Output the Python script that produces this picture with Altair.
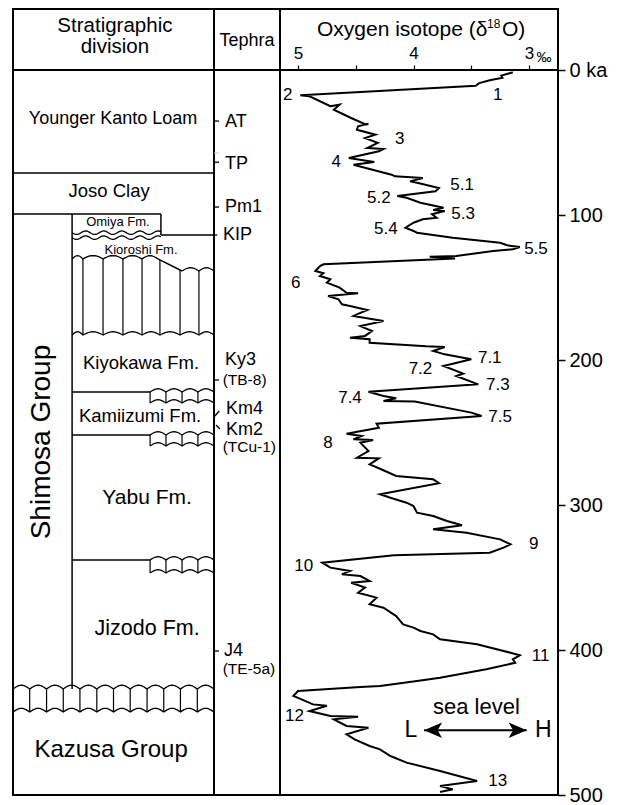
import altair as alt
import numpy as np
import pandas as pd

FONT = "Liberation Sans"

# ---------------- oxygen isotope curve ----------------
age_ka = [1.6, 3.9, 5.3, 7.1, 9.0, 10.8, 17.4, 18.1, 25.0, 23.9,
          27.4, 33.1, 37.7, 37.0, 38.8, 41.2, 44.6, 46.9, 50.3, 53.8,
          54.5, 56.1, 60.7, 63.4, 65.3, 72.2, 73.3, 74.5, 76.8, 77.9,
          81.4, 83.7, 86.9, 88.1, 91.5, 95.0, 96.6, 97.2, 99.5, 101.9,
          103.0, 105.3, 108.8, 111.0, 112.2, 115.7, 119.1, 120.9, 122.1, 123.7,
          124.8, 128.3, 128.8, 130.0, 134.0, 135.2, 138.6, 140.2, 142.1, 144.3,
          146.7, 150.1, 153.6, 154.0, 155.9, 158.1, 161.6, 162.8, 165.5, 168.5,
          169.7, 173.1, 176.6, 180.0, 183.4, 184.6, 185.7, 188.1, 190.5, 191.0,
          193.8, 196.1, 199.5, 204.1, 209.4, 211.0, 216.8, 221.9, 224.8, 226.4,
          228.3, 228.6, 236.3, 238.6, 243.9, 246.7, 250.8, 252.4, 254.7, 255.2,
          257.0, 262.8, 267.4, 267.8, 272.0, 275.0, 280.0, 282.3, 285.0, 292.6,
          295.0, 298.4, 300.7, 305.3, 307.6, 311.0, 314.0, 316.8, 319.1, 323.7,
          327.1, 329.4, 332.9, 334.7, 339.8, 343.2, 345.5, 347.8, 349.0, 352.4,
          353.6, 357.0, 360.5, 363.9, 368.5, 370.8, 376.6, 382.3, 384.6, 386.9,
          389.2, 392.6, 396.1, 401.9, 403.7, 406.4, 408.8, 413.3, 419.1, 421.4,
          424.8, 425.5, 428.3, 431.7, 434.0, 437.5, 438.5, 442.1, 445.5, 446.0,
          447.8, 452.4, 453.6, 458.1, 461.6, 466.2, 468.5, 473.1, 477.7, 483.4,
          490.3, 493.8, 496.1, 497.9]
d18o = [3.14, 3.24, 3.23, 3.34, 3.43, 3.46, 4.98, 4.90, 4.72, 4.64,
        4.69, 4.54, 4.41, 4.39, 4.48, 4.49, 4.33, 4.42, 4.31, 4.40,
        4.26, 4.30, 4.56, 4.34, 4.52, 4.19, 4.16, 3.92, 4.03, 3.96,
        3.78, 3.81, 4.14, 4.06, 3.94, 3.74, 3.83, 3.73, 3.84, 3.80,
        3.92, 4.00, 4.07, 4.00, 3.97, 3.66, 3.25, 3.19, 3.08, 3.14,
        3.31, 3.63, 3.86, 3.64, 4.78, 4.81, 4.85, 4.78, 4.81, 4.72,
        4.75, 4.64, 4.58, 4.48, 4.74, 4.65, 4.62, 4.55, 4.40, 4.49,
        4.52, 4.26, 4.46, 4.36, 4.42, 4.55, 4.38, 4.38, 3.89, 3.73,
        3.83, 3.73, 3.50, 3.74, 3.57, 3.63, 3.44, 4.39, 4.26, 4.15,
        4.26, 3.99, 3.50, 3.41, 4.32, 4.30, 4.58, 4.45, 4.52, 4.35,
        4.46, 4.39, 4.49, 4.30, 4.38, 4.29, 4.15, 3.83, 3.78, 4.29,
        4.20, 4.06, 4.00, 3.97, 3.83, 3.71, 3.58, 3.83, 3.54, 3.25,
        3.16, 3.22, 3.34, 4.17, 4.79, 4.72, 4.55, 4.62, 4.46, 4.38,
        4.54, 4.42, 4.48, 4.32, 4.38, 4.26, 4.15, 4.09, 4.00, 3.94,
        3.83, 3.77, 3.45, 3.16, 3.08, 3.14, 3.12, 3.37, 3.77, 3.97,
        4.29, 4.46, 5.00, 5.04, 4.97, 4.87, 4.75, 4.90, 4.72, 4.48,
        4.69, 4.58, 4.39, 4.58, 4.51, 4.38, 4.29, 4.20, 4.06, 3.77,
        3.45, 3.77, 3.66, 3.77]

# marine isotope stage labels
mis_text = ["1", "2", "3", "4", "5.1", "5.2", "5.3", "5.4", "5.5", "6", "7.1",
            "7.2", "7.3", "7.4", "7.5", "8", "9", "10", "11", "12", "13"]
mis_d18o = [3.27, 5.09, 4.12, 4.67, 3.58, 4.30, 3.57, 4.24, 2.94, 5.02, 3.34,
            3.94, 3.27, 4.55, 3.25, 4.74, 2.96, 4.95, 2.90, 5.03, 3.27]
mis_age = [17.0, 17.4, 47.6, 63.7, 79.1, 88.1, 99.5, 109.9, 123.7, 146.7, 198.4,
           206.4, 217.5, 226.0, 239.1, 257.0, 327.1, 342.1, 404.1, 445.5, 490.3]

# tephra markers (label text, label position, ages in ka)
tephra_text = ["AT", "TP", "Pm1", "KIP", "Ky3", "(TB-8)", "Km4", "Km2", "(TCu-1)", "J4", "(TE-5a)"]
tephra_label_age = [35.9, 64.5, 94.5, 113.8, 200.3, 213.8, 233.6, 248.0, 260.3, 400.7, 413.4]
tephra_label_x = [16.7, 16.7, 16.7, 13.6, 16.7, 13.1, 18.2, 18.2, 13.1, 15.2, 13.1]
tephra_label_fs = [18, 18, 18, 18, 18, 15.5, 18, 18, 15.5, 18, 15.5]
tick_x = [0, 0, 0, 0, 0, 0, 3, 0]
tick_x2 = [7.6, 7.6, 7.6, 5, 7.6, 8, 9, 7.6]
tick_age = [35.2, 63.6, 94.5, 113.8, 213.8, 239.3, 244.8, 400.7]
tick_age2 = [35.2, 63.6, 94.5, 113.8, 213.8, 235.2, 247.6, 400.7]

# stratigraphic column (x in % of column width, ages in ka)
line_x = [0, 0, 73.6, 73.6, 29.4, 72.1, 29.4, 29.4, 29.4]
line_x2 = [100, 73.6, 73.6, 100, 29.4, 84.1, 68.2, 68.2, 68.2]
line_age = [71.0, 99.3, 99.3, 113.8, 99.3, 130.3, 222.1, 251.7, 337.9]
line_age2 = [71.0, 99.3, 113.8, 113.8, 426.9, 138.6, 222.1, 251.7, 337.9]

hatch_x = [34.8, 44.8, 54.7, 64.2, 73.1, 83.1, 92.5]
hatch_top = [130.3, 130.3, 130.3, 130.3, 131.0, 138.0, 138.6]
hatch_base = 182.8
kioroshi_top_cusps_a = [29.4, 34.8, 44.8, 54.7, 64.2, 72.1]
kioroshi_top_cusps_b = [84.1, 92.5, 100]
kioroshi_base_cusps = [29.4, 34.8, 44.8, 54.7, 64.2, 73.1, 83.1, 92.5, 100]
box_cusps = [68.2, 76.1, 84.1, 92.0, 100]
box_tops = [222.1, 251.7, 337.9]
box_bases = [229.7, 259.3, 346.9]
band_cusps = [0, 8.3, 16.7, 25, 33.3, 41.7, 50, 58.3, 66.7, 75, 83.3, 91.7, 100]
band_top, band_base = 426.9, 442.8
omiya_wave_ages = [112.2, 115.6]

strat_text = ["Stratigraphic", "division", "Younger Kanto Loam", "Joso Clay", "Omiya Fm.",
              "Kioroshi Fm.", "Kiyokawa  Fm.", "Kamiizumi Fm.", "Yabu Fm.", "Jizodo Fm.",
              "Kazusa Group"]
strat_x = [50.7, 50.7, 49.8, 47.8, 52.2, 63.7, 63.7, 63.2, 66.7, 66.7, 48.8]
strat_age = [-30.6, -16.0, 34.1, 83.4, 104.8, 124.1, 202.1, 238.6, 295.5, 385.5, 469.0]
strat_fs = [20.5, 20.5, 18, 18.5, 13, 13, 18.5, 18.5, 21, 21.5, 24]

# ---------------- scales ----------------
Y_DOM = [-42.07, 500]
W1, W2, W3, H = 201, 66, 278, 786

ys = alt.Scale(domain=Y_DOM, reverse=True, nice=False, zero=False)
xs_pct = alt.Scale(domain=[0, 100], nice=False, zero=False)
xs_iso = alt.Scale(domain=[2.749, 5.156], reverse=True, nice=False, zero=False)

X1 = alt.X("x:Q", scale=xs_pct, axis=None)
Y1 = alt.Y("y:Q", scale=ys, axis=None)

x_axis3 = alt.Axis(orient="top", values=[5, 4.5, 4, 3.5, 3],
                   labelExpr="(datum.value == 4.5 || datum.value == 3.5) ? '' : format(datum.value, 'd')",
                   offset=-61, tickSize=5, tickColor="black", tickWidth=1.2,
                   labelFontSize=17, labelFont=FONT, labelColor="black", labelPadding=3,
                   labelOverlap=False, labelFlush=False, domain=False, grid=False, title=None)
y_axis3 = alt.Axis(orient="right", values=[0, 100, 200, 300, 400, 500],
                   labelExpr="datum.value == 0 ? '0 ka' : datum.label",
                   tickSize=7, tickColor="black", tickWidth=1.5, labelFontSize=20,
                   labelFont=FONT, labelColor="black", labelPadding=4,
                   domain=False, grid=False, title=None)
X3 = alt.X("x:Q", scale=xs_iso, axis=x_axis3)
Y3 = alt.Y("y:Q", scale=ys, axis=y_axis3)

FS = alt.Size("fs:Q", scale=None, legend=None)


# ---------------- decorative wavy (unconformity) lines ----------------
def arches(cusps, y0, amp, gid, rows, n=10):
    k = 0
    for a, b in zip(cusps[:-1], cusps[1:]):
        for t in np.linspace(0, 1, n + 1):
            rows.append({"x": a + (b - a) * t, "y": y0 - amp * np.sin(np.pi * t), "g": gid, "o": k})
            k += 1


def sine(x0, x1, y0, period, amp, gid, rows):
    xs = np.linspace(x0, x1, 120)
    for k, xv in enumerate(xs):
        rows.append({"x": xv, "y": y0 + amp * np.sin(2 * np.pi * (xv - x0) / period), "g": gid, "o": k})


wave_rows = []
arches(kioroshi_top_cusps_a, 130.3, 2.3, "kt1", wave_rows)
arches(kioroshi_top_cusps_b, 138.6, 2.3, "kt2", wave_rows)
arches(kioroshi_base_cusps, hatch_base, 2.3, "kb", wave_rows)
for i, (t, b) in enumerate(zip(box_tops, box_bases)):
    arches(box_cusps, t, 2.3, f"bt{i}", wave_rows)
    arches(box_cusps, b, 2.3, f"bb{i}", wave_rows)
arches(band_cusps, band_top, 2.6, "nt", wave_rows)
arches(band_cusps, band_base, 2.6, "nb", wave_rows)
for i, ya in enumerate(omiya_wave_ages):
    sine(29.4, 73.6, ya, 9.0, 1.2, f"om{i}", wave_rows)
waves_df = pd.DataFrame(wave_rows)

vert_rows = []
for xv, tv in zip(hatch_x, hatch_top):
    vert_rows.append({"x": xv, "y": tv, "y2": hatch_base})
for t, b in zip(box_tops, box_bases):
    for xv in box_cusps:
        vert_rows.append({"x": xv, "y": t, "y2": b})
for xv in band_cusps:
    vert_rows.append({"x": xv, "y": band_top, "y2": band_base})
verts_df = pd.DataFrame(vert_rows)

# ---------------- panel 1 : stratigraphic division ----------------
hdr1 = alt.Chart(pd.DataFrame({"y": [0]})).mark_rule(color="black", strokeWidth=2).encode(y=Y1)
lines1 = alt.Chart(pd.DataFrame({"x": line_x, "x2": line_x2, "y": line_age, "y2": line_age2})).mark_rule(
    color="black", strokeWidth=1.5).encode(x=X1, x2="x2:Q", y=Y1, y2="y2:Q")
verts1 = alt.Chart(verts_df).mark_rule(color="black", strokeWidth=1.2).encode(x=X1, y=Y1, y2="y2:Q")
waves1 = alt.Chart(waves_df).mark_line(color="black", strokeWidth=1.3).encode(
    x=X1, y=Y1, detail="g:N", order="o:Q")
texts1 = alt.Chart(pd.DataFrame({"x": strat_x, "y": strat_age, "t": strat_text, "fs": strat_fs})).mark_text(
    font=FONT, color="black", align="center", baseline="middle").encode(x=X1, y=Y1, text="t:N", size=FS)
shimosa = alt.Chart(pd.DataFrame({"x": [14.4], "y": [256.6], "t": ["Shimosa Group"]})).mark_text(
    font=FONT, color="black", align="center", baseline="middle", angle=270, fontSize=28).encode(
    x=X1, y=Y1, text="t:N")
p1 = alt.layer(hdr1, lines1, verts1, waves1, texts1, shimosa).properties(width=W1, height=H)

# ---------------- panel 2 : tephra ----------------
hdr2 = alt.Chart(pd.DataFrame({"y": [0]})).mark_rule(color="black", strokeWidth=2).encode(y=Y1)
ticks2 = alt.Chart(pd.DataFrame({"x": tick_x, "x2": tick_x2, "y": tick_age, "y2": tick_age2})).mark_rule(
    color="black", strokeWidth=1.3).encode(x=X1, x2="x2:Q", y=Y1, y2="y2:Q")
faint2 = alt.Chart(pd.DataFrame({"x": [0], "x2": [7.6], "y": [57.2]})).mark_rule(
    color="#c8c8c8", strokeWidth=1).encode(x=X1, x2="x2:Q", y=Y1)
title2 = alt.Chart(pd.DataFrame({"x": [50], "y": [-20.0], "t": ["Tephra"]})).mark_text(
    font=FONT, color="black", align="center", baseline="middle", fontSize=18).encode(x=X1, y=Y1, text="t:N")
labels2 = alt.Chart(pd.DataFrame({"x": tephra_label_x, "y": tephra_label_age, "t": tephra_text,
                                  "fs": tephra_label_fs})).mark_text(
    font=FONT, color="black", align="left", baseline="middle").encode(x=X1, y=Y1, text="t:N", size=FS)
p2 = alt.layer(hdr2, faint2, ticks2, title2, labels2).properties(width=W2, height=H)

# ---------------- panel 3 : oxygen isotope ----------------
hdr3 = alt.Chart(pd.DataFrame({"y": [0]})).mark_rule(color="black", strokeWidth=2).encode(y=Y3)
curve = alt.Chart(pd.DataFrame({"x": d18o, "y": age_ka, "i": list(range(len(d18o)))})).mark_line(
    color="black", strokeWidth=2, strokeJoin="miter").encode(x=X3, y=Y3, order="i:Q")
mis = alt.Chart(pd.DataFrame({"x": mis_d18o, "y": mis_age, "t": mis_text})).mark_text(
    font=FONT, color="black", align="center", baseline="middle", fontSize=17).encode(x=X3, y=Y3, text="t:N")

title_text = ["Oxygen isotope (δ", "18", "O)", "‰"]
title_x = [4.836, 3.364, 3.234, 2.935]
title_y = [-27.6, -31.5, -27.6, -9.0]
title_fs = [21, 12, 21, 15]
titles3 = alt.Chart(pd.DataFrame({"x": title_x, "y": title_y, "t": title_text, "fs": title_fs})).mark_text(
    font=FONT, color="black", align="left", baseline="middle").encode(x=X3, y=Y3, text="t:N", size=FS)

sea_text = ["sea level", "L", "H"]
sea_x = [3.455, 4.023, 2.876]
sea_y = [439.3, 455.5, 455.5]
sea_fs = [22, 23, 23]
sea = alt.Chart(pd.DataFrame({"x": sea_x, "y": sea_y, "t": sea_text, "fs": sea_fs})).mark_text(
    font=FONT, color="black", align="center", baseline="middle").encode(x=X3, y=Y3, text="t:N", size=FS)

arrow_y = 455.4
arrow_line = alt.Chart(pd.DataFrame({"x": [3.909], "x2": [3.020], "y": [arrow_y]})).mark_rule(
    color="black", strokeWidth=2).encode(x=X3, x2="x2:Q", y=Y3)
head_l = alt.Chart(pd.DataFrame({"x": [3.831], "y": [arrow_y]})).mark_point(
    shape="M -1 0 L 1 -0.85 L 0.5 0 L 1 0.85 Z", filled=True, color="black", opacity=1, size=330,
    strokeWidth=0).encode(x=X3, y=Y3)
head_r = alt.Chart(pd.DataFrame({"x": [3.098], "y": [arrow_y]})).mark_point(
    shape="M 1 0 L -1 -0.85 L -0.5 0 L -1 0.85 Z", filled=True, color="black", opacity=1, size=330,
    strokeWidth=0).encode(x=X3, y=Y3)

p3 = alt.layer(hdr3, curve, mis, titles3, sea, arrow_line, head_l, head_r).properties(width=W3, height=H)

chart = alt.hconcat(p1, p2, p3, spacing=0, bounds="flush").properties(
    padding={"left": 1, "top": 0, "right": 5, "bottom": 0}
).configure(font=FONT).configure_view(stroke="black", strokeWidth=2)

chart.save("out.html", embed_options={"renderer": "svg", "actions": False})
